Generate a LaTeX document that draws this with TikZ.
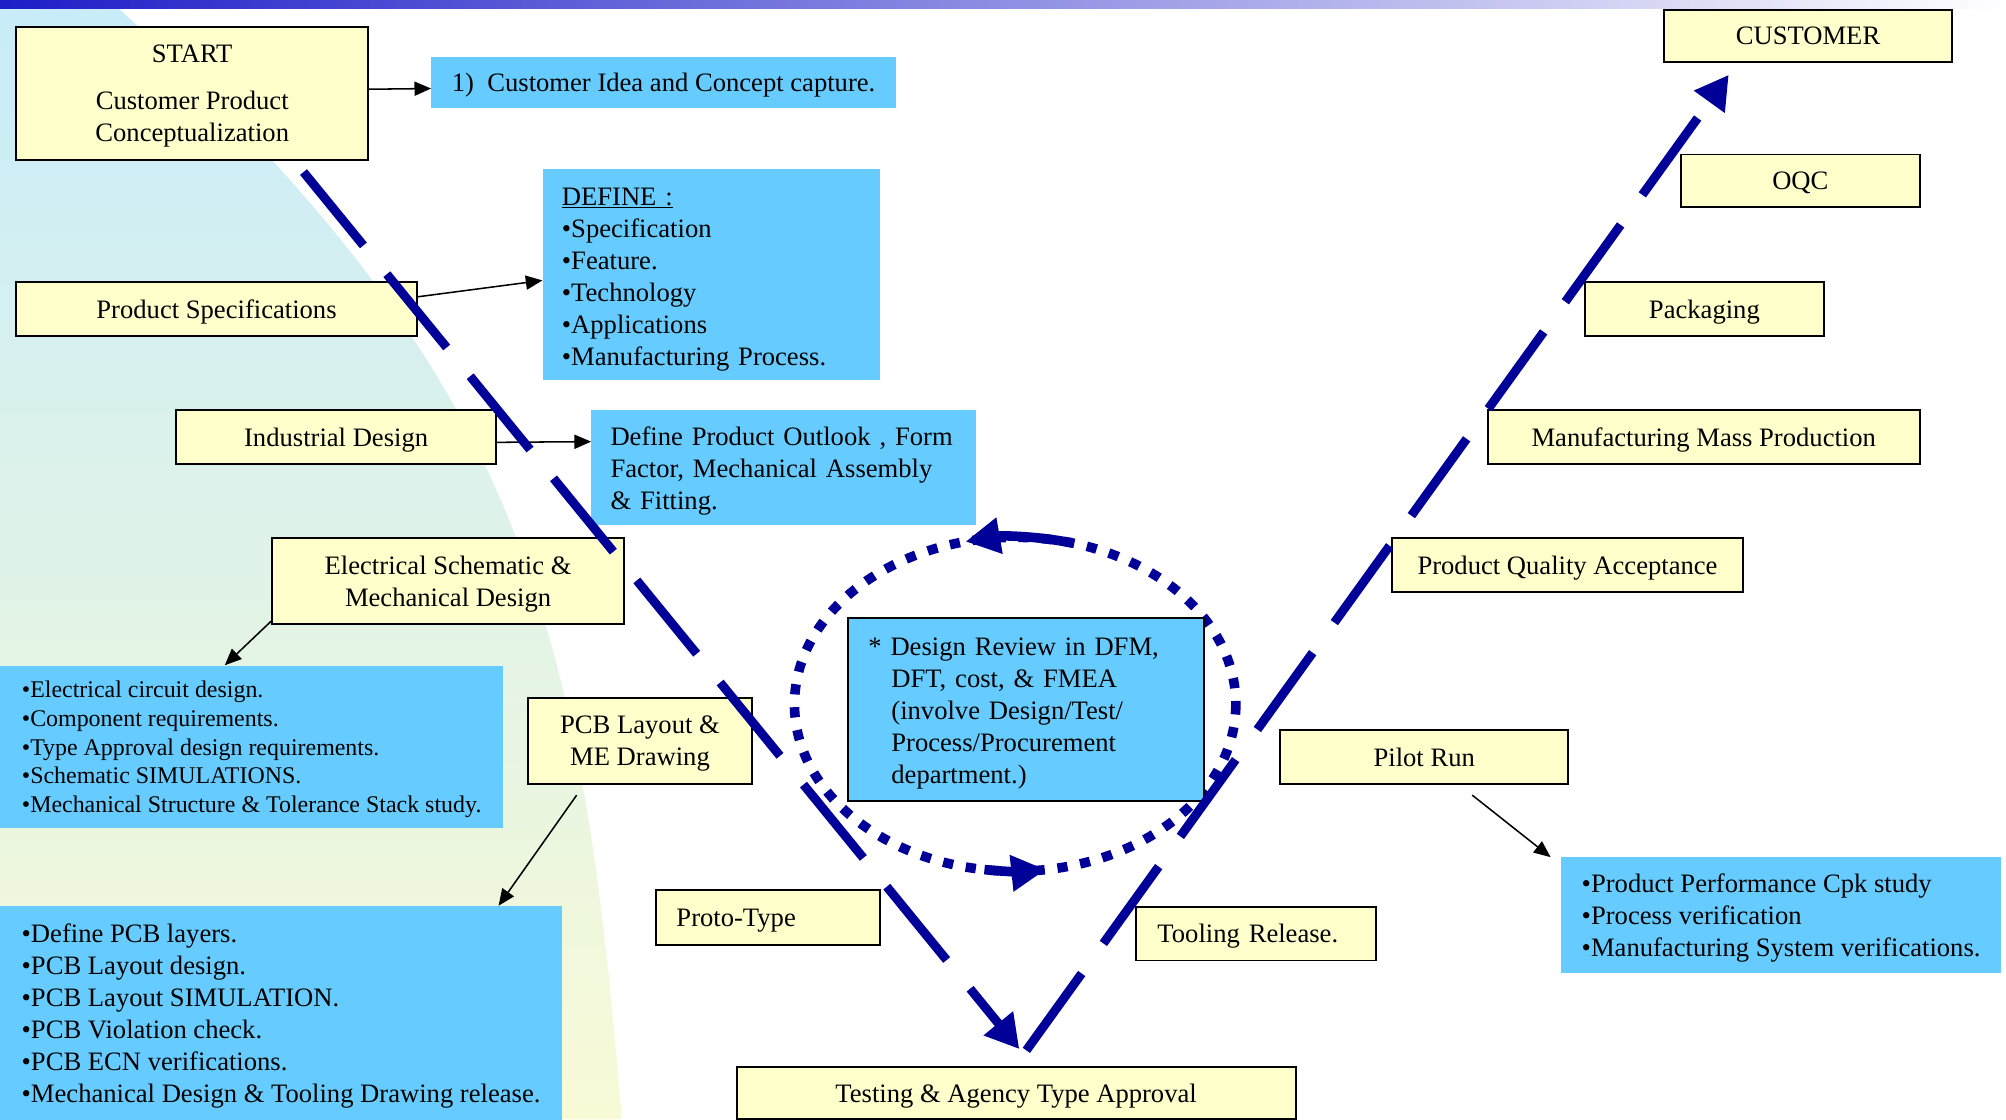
\documentclass[tikz,border=0pt]{standalone}
\usepackage{fontspec}
\setmainfont{Liberation Serif}
\usetikzlibrary{arrows.meta}

\definecolor{navy}{RGB}{0,0,153}
\definecolor{boxyellow}{RGB}{255,255,204}
\definecolor{boxblue}{RGB}{102,204,255}
\definecolor{barblue}{RGB}{30,30,200}
\definecolor{bgblue}{RGB}{200,236,250}
\definecolor{bgyellow}{RGB}{248,250,214}

\tikzset{
    stagebox/.style={draw=black, line width=1.5pt, fill=boxyellow, anchor=north west, inner sep=0pt, text depth=0pt, align=center},
    infobox/.style={fill=boxblue, anchor=north west, inner sep=0pt, text depth=0pt, align=left},
    vleg/.style={draw=navy, line width=7pt, dash pattern=on 74pt off 29pt, -{Triangle[length=26pt,width=28pt]}},
    revarrow/.style={draw=navy, line width=7.5pt, -{Triangle[length=27pt,width=27pt]}}
}

\begin{document}
\begin{tikzpicture}[x=1pt, y=-1pt, font=\fontsize{20.8}{25}\selectfont]
    \useasboundingbox (0,0) rectangle (1568,875);

    \shade[top color=bgblue, bottom color=bgyellow] (0,6) -- (92,6) .. controls (407,293) and (454,479) .. (486,875) -- (0,875) -- cycle;
    \shade[left color=barblue, right color=white] (0,0) rectangle (1568,6.5);

    % review loop
    \coordinate (rev) at (793.5,550.5);
    \draw[navy, line width=7.5pt, dash pattern=on 8pt off 10pt] (rev) ellipse [x radius=172.5, y radius=130.5];

    \begin{scope}[every node/.style={stagebox}]
        \node[minimum width=275pt, minimum height=104pt] (start) at (12,20) {START\\[12pt]Customer Product\\Conceptualization};
        \node[minimum width=313pt, minimum height=42pt] (spec) at (12,220) {Product Specifications};
        \node[minimum width=250pt, minimum height=42pt] (indus) at (137,320) {Industrial Design};
        \node[minimum width=275pt, minimum height=67pt] (elec) at (212,420) {Electrical Schematic \&\\Mechanical Design};
        \node[minimum width=175pt, minimum height=67pt] (pcb) at (412,545) {PCB Layout \&\\ME Drawing};
        \node[minimum width=175pt, minimum height=43pt, text width=143pt, align=left] (proto) at (512,695) {Proto-Type};
        \node[minimum width=437pt, minimum height=41pt] (test) at (575,833) {Testing \& Agency Type Approval};
        \node[minimum width=188pt, minimum height=42pt, text width=154pt, align=left] (tool) at (887,708) {Tooling Release.};
        \node[minimum width=225pt, minimum height=42pt] (pilot) at (1000,570) {Pilot Run};
        \node[minimum width=275pt, minimum height=42pt] (pqa) at (1087,420) {Product Quality Acceptance};
        \node[minimum width=338pt, minimum height=42pt] (mass) at (1162,320) {Manufacturing Mass Production};
        \node[minimum width=187pt, minimum height=42pt] (pack) at (1238,220) {Packaging};
        \node[minimum width=187pt, minimum height=41pt] (oqc) at (1313,120) {OQC};
        \node[minimum width=225pt, minimum height=41pt] (cust) at (1300,7) {CUSTOMER};
    \end{scope}

    \begin{scope}[every node/.style={infobox}]
        \node[minimum width=363pt, minimum height=40pt] (idea) at (337,44) {1)~~Customer Idea and Concept capture.};
        \node[minimum width=264pt, minimum height=165pt, text width=234pt, text height=21pt, text depth={}] (define) at (424,132) {\underline{DEFINE :}\\•Specification\\•Feature.\\•Technology\\•Applications\\•Manufacturing Process.};
        \node[minimum width=301pt, minimum height=90pt, text width=271pt, text height=20.5pt, text depth={}] (outlook) at (462,320) {Define Product Outlook , Form\\Factor, Mechanical Assembly\\\& Fitting.};
        \node[minimum width=393pt, minimum height=127pt, font=\fontsize{18.7}{22.5}\selectfont] (elist) at (0,520) {•Electrical circuit design.\\•Component requirements.\\•Type Approval design requirements.\\•Schematic SIMULATIONS.\\•Mechanical Structure \& Tolerance Stack study.};
        \node[minimum width=439pt, minimum height=167pt] (plist) at (0,708) {•Define PCB layers.\\•PCB Layout design.\\•PCB Layout SIMULATION.\\•PCB Violation check.\\•PCB ECN verifications.\\•Mechanical Design \& Tooling Drawing release.};
        \node[minimum width=344pt, minimum height=90pt] (runlist) at (1220,670) {•Product Performance Cpk study\\•Process verification\\•Manufacturing System verifications.};
        \node[draw=black, line width=1.5pt, minimum width=278pt, minimum height=143pt, text width=246pt, text height=20.5pt, text depth={}] (review) at (662,482) {* Design Review in DFM,\\\hspace*{18pt}DFT, cost, \& FMEA\\\hspace*{18pt}(involve Design/Test/\\\hspace*{18pt}Process/Procurement\\\hspace*{18pt}department.)};
    \end{scope}

    \begin{scope}[every edge/.style={draw, line width=1.2pt, -{Triangle[length=13pt,width=11pt]}}]
        \path ([yshift=3pt]start.east) edge ([yshift=-5pt]idea.west);
        \path ([yshift=-12pt]spec.north east) edge ([yshift=-4.5pt]define.west);
        \path ([yshift=-4pt]indus.east) edge ([yshift=20pt]outlook.west);
        \path ([yshift=3pt]elec.south west) edge ([xshift=-21pt]elist.north);
        \path ([xshift=-49.5pt,yshift=-8pt]pcb.south) edge ([xshift=170pt]plist.north);
        \path ([xshift=37.5pt,yshift=-8pt]pilot.south) edge ([xshift=-8pt]runlist.north west);
    \end{scope}

    \draw[revarrow] (rev) ++(-75:172.5 and 130.5) arc[start angle=-75, end angle=-103, x radius=172.5, y radius=130.5];
    \draw[revarrow] (rev) ++(98:172.5 and 130.5) arc[start angle=98, end angle=82, x radius=172.5, y radius=130.5];

    \draw[vleg] ([xshift=87pt,yshift=-9pt]start.south) -- ([xshift=2.5pt,yshift=13pt]test.north);
    \draw[vleg] ([xshift=8pt,yshift=12pt]test.north) -- ([xshift=-62pt,yshift=-9pt]cust.south);
\end{tikzpicture}
\end{document}
